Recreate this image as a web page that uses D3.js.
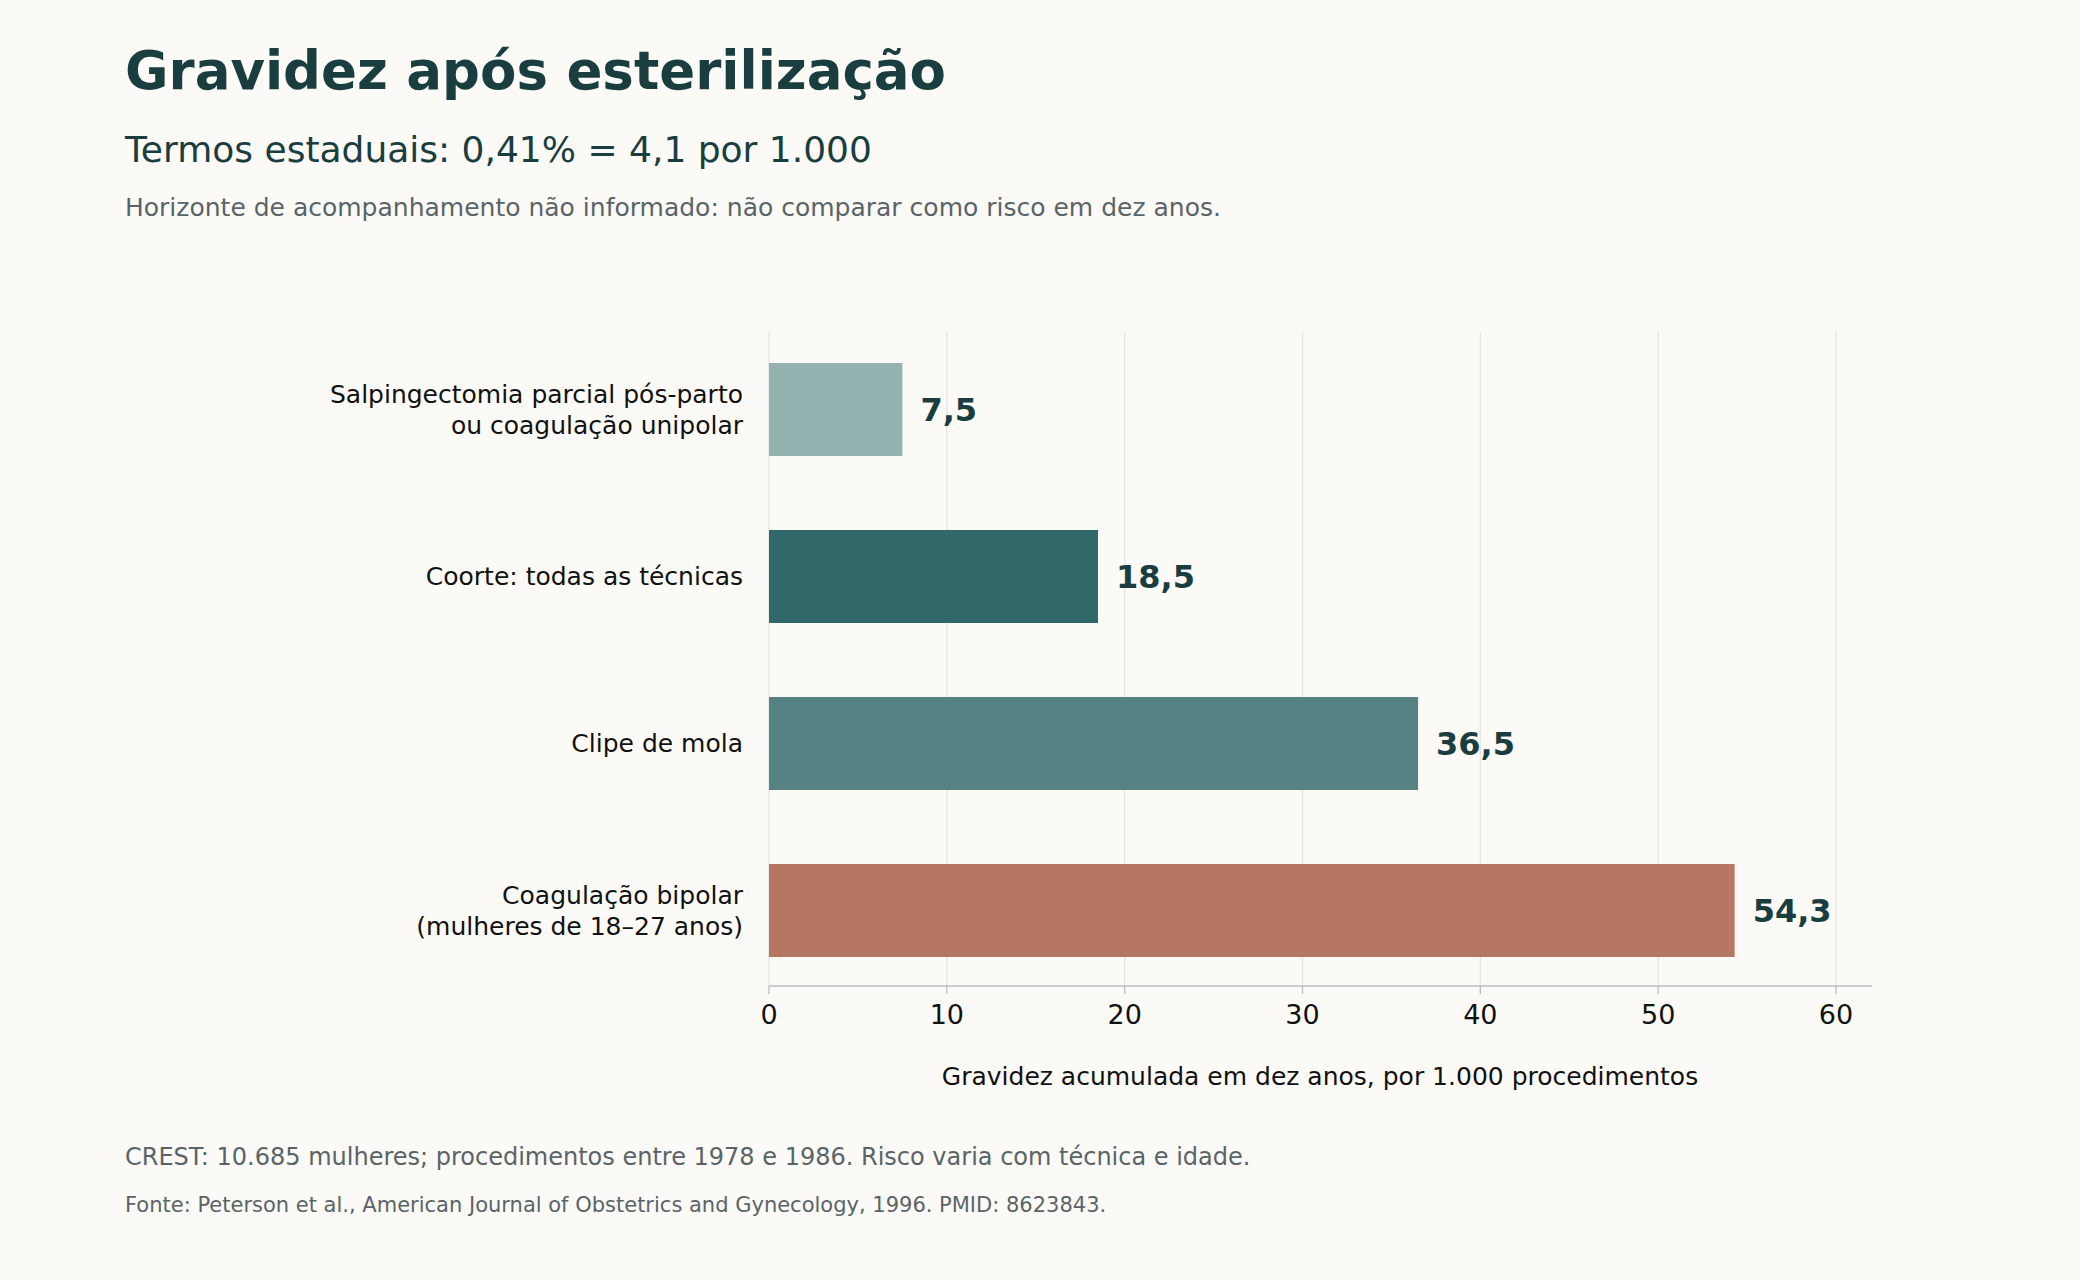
<!DOCTYPE html>
<html><head><meta charset="utf-8">
<script src="https://cdn.jsdelivr.net/npm/d3@7"></script>
<style>body{margin:0;background:#fbfaf6;font-family:"DejaVu Sans",sans-serif;}</style>
</head><body>
<script>
const categories = [
  ["Salpingectomia parcial pós-parto", "ou coagulação unipolar"],
  ["Coorte: todas as técnicas"],
  ["Clipe de mola"],
  ["Coagulação bipolar", "(mulheres de 18–27 anos)"]
];
const values = [7.5, 18.5, 36.5, 54.3];
const colors = ["#94b3b0", "#31696b", "#568284", "#b67762"];
const ticks = [0, 10, 20, 30, 40, 50, 60];

const W = 2080, H = 1280;
const svg = d3.select("body").append("svg").attr("width", W).attr("height", H);
svg.append("rect").attr("width", W).attr("height", H).attr("fill", "#fbfaf6");

const x = d3.scaleLinear().domain([0, 60]).range([769, 1836]);
const y = d3.scaleBand().domain(d3.range(values.length)).range([326, 994]).paddingInner(0.443).paddingOuter(0.2215);

// grid
svg.selectAll(".grid").data(ticks).enter().append("line")
  .attr("x1", d => x(d)).attr("x2", d => x(d))
  .attr("y1", 332).attr("y2", 986)
  .attr("stroke", "#e6e5e0").attr("stroke-width", 1.3);

svg.selectAll(".bar").data(values).enter().append("rect")
  .attr("x", x(0)).attr("y", (d, i) => y(i))
  .attr("width", d => x(d) - x(0)).attr("height", y.bandwidth())
  .attr("fill", (d, i) => colors[i]);

svg.selectAll(".val").data(values).enter().append("text")
  .attr("x", d => x(d) + 18).attr("y", (d, i) => y(i) + y.bandwidth() / 2)
  .attr("dy", "0.35em").attr("font-size", 32).attr("font-weight", "bold")
  .attr("fill", "#1a3d40").text(d => d.toFixed(1).replace(".", ","));

categories.forEach((lines, i) => {
  const t = svg.append("text").attr("text-anchor", "end").attr("font-size", 25).attr("fill", "#111");
  const cy = y(i) + y.bandwidth() / 2;
  lines.forEach((l, j) => {
    t.append("tspan").attr("x", 743)
      .attr("y", cy + (j - (lines.length - 1) / 2) * 31).attr("dy", "0.35em").text(l);
  });
});

// axis
svg.append("line").attr("x1", 769).attr("x2", 1872).attr("y1", 986).attr("y2", 986)
  .attr("stroke", "#b8bfbc").attr("stroke-width", 1.5);
svg.selectAll(".tk").data(ticks).enter().append("line")
  .attr("x1", d => x(d)).attr("x2", d => x(d)).attr("y1", 986).attr("y2", 994)
  .attr("stroke", "#b8bfbc").attr("stroke-width", 1.3);
svg.selectAll(".tl").data(ticks).enter().append("text")
  .attr("x", d => x(d)).attr("y", 1024).attr("text-anchor", "middle")
  .attr("font-size", 27).attr("fill", "#111").text(d => d);
svg.append("text").attr("x", 1320).attr("y", 1085).attr("text-anchor", "middle")
  .attr("font-size", 25).attr("fill", "#111")
  .text("Gravidez acumulada em dez anos, por 1.000 procedimentos");

// titles
svg.append("text").attr("x", 125).attr("y", 89).attr("font-size", 53).attr("font-weight", "bold")
  .attr("fill", "#1a3d40").text("Gravidez após esterilização");
svg.append("text").attr("x", 125).attr("y", 162).attr("font-size", 36)
  .attr("fill", "#1a3d40").text("Termos estaduais: 0,41% = 4,1 por 1.000");
svg.append("text").attr("x", 125).attr("y", 216).attr("font-size", 25)
  .attr("fill", "#5a6468").text("Horizonte de acompanhamento não informado: não comparar como risco em dez anos.");
svg.append("text").attr("x", 125).attr("y", 1165).attr("font-size", 24)
  .attr("fill", "#5a6468").text("CREST: 10.685 mulheres; procedimentos entre 1978 e 1986. Risco varia com técnica e idade.");
svg.append("text").attr("x", 125).attr("y", 1212).attr("font-size", 21)
  .attr("fill", "#5a6468").text("Fonte: Peterson et al., American Journal of Obstetrics and Gynecology, 1996. PMID: 8623843.");
</script>
</body></html>
